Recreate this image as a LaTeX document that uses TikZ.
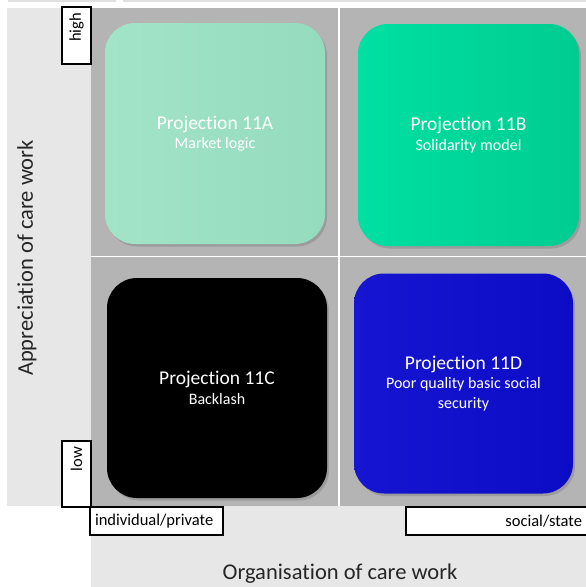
\documentclass[tikz,border=0pt]{standalone}
\usepackage{fontspec}
\setmainfont[Ligatures={NoCommon}]{Carlito}
\usetikzlibrary{shadows}
\definecolor{lightpanel}{HTML}{E7E7E7}
\definecolor{midgray}{HTML}{B4B4B4}
\definecolor{mintA}{HTML}{A2E4C8}
\definecolor{mintB}{HTML}{95DBBD}
\definecolor{tealA}{HTML}{00E0A2}
\definecolor{tealB}{HTML}{00CC90}
\definecolor{blueA}{HTML}{1616D2}
\definecolor{blueB}{HTML}{0C0CC6}
\definecolor{axistext}{HTML}{262626}
\tikzset{
  quad/.style={rounded corners=30pt, draw=none, text=white, align=center,
    font=\fontsize{16}{19.5}\selectfont,
    drop shadow={shadow xshift=2pt, shadow yshift=-2.5pt, opacity=0.45}},
  lbl/.style={draw=black, line width=2pt, fill=white, inner ysep=0pt, inner xsep=6pt,
    font=\fontsize{16.5}{18}\selectfont, text=black},
  axislbl/.style={font=\fontsize{22.5}{26}\selectfont, text=axistext}
}
\newcommand{\ttl}[1]{{\fontsize{19.5}{22}\selectfont #1}}
\begin{document}
\begin{tikzpicture}[x=1pt,y=-1pt]
\useasboundingbox (0,0) rectangle (586,587);
\fill[white] (0,0) rectangle (586,587);
% remnants at the top
\draw[black!12, line width=1.5pt] (8,1) -- (116,1);
\draw[black!12, line width=1.5pt] (123,1) -- (586,1);
% panels
\fill[lightpanel] (7,8) rectangle (91,506);
\fill[lightpanel] (91,506) rectangle (586,587);
\fill[midgray] (91,8) rectangle (586,506);
\draw[white, line width=1.5pt] (339,8) -- (339,506);
\draw[white, line width=1.5pt] (91,256.5) -- (586,256.5);
% quadrants
\node[quad, minimum width=220pt, minimum height=221pt, left color=mintA, right color=mintB] (pa) at (215,133.5)
  {\ttl{Projection 11A}\\Market logic};
\node[quad, minimum width=221pt, minimum height=222pt, left color=tealA, right color=tealB] (pb) at (468.5,135)
  {\ttl{Projection 11B}\\Solidarity model};
\node[quad, minimum width=220pt, minimum height=220pt, fill=black] (pc) at (217,388)
  {\ttl{Projection 11C}\\Backlash};
\node[quad, minimum width=219pt, minimum height=220pt, left color=blueA, right color=blueB] (pd) at (463.5,383.5)
  {\ttl{Projection 11D}\\Poor quality basic social\\security};
% axis labels
\node[axislbl, rotate=90] (ylab) at (27,258) {Appreciation of care work};
\node[axislbl] (xlab) at (340,574) {Organisation of care work};
% scale labels
\node[lbl, rotate=90, minimum width=57pt, minimum height=29pt, text width=45pt, align=right] (high) at (76.5,35.5) {high};
\node[lbl, rotate=90, minimum width=66pt, minimum height=29pt, text width=54pt, align=right] (low) at (76.5,474) {low};
\node[lbl, minimum width=133pt, minimum height=28pt, text width=123pt, inner xsep=5pt, align=left] (priv) at (156.5,521) {individual/private};
\node[lbl, minimum width=184pt, minimum height=28pt, text width=168pt, inner xsep=8pt, align=right] (state) at (498,521) {social/state};
\end{tikzpicture}
\end{document}
